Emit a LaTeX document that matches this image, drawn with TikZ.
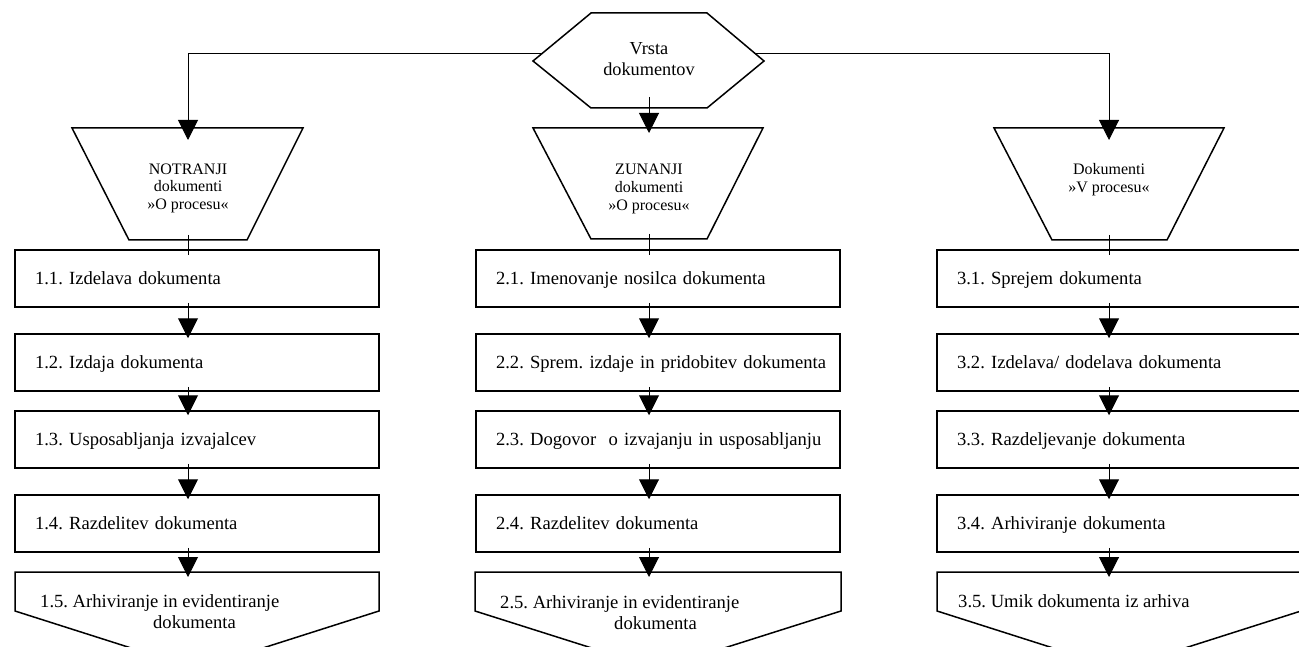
\documentclass[tikz,border=0pt]{standalone}
\usepackage{fontspec}
\setmainfont{Liberation Serif}
\usetikzlibrary{arrows.meta,calc}
\frenchspacing
\newcommand\bxt[1]{\raisebox{0pt}[12pt][0pt]{#1}}
\begin{document}
\begin{tikzpicture}[x=1pt,y=-1pt,
  shp/.style={draw=black, line width=1.5pt, fill=white, line join=miter},
  stepbox/.style={shp, rectangle, minimum height=57pt, text width=324pt, inner xsep=20pt, inner ysep=0pt, align=left, font=\fontsize{18.6}{21.5}\selectfont},
  conn/.style={line width=1pt, draw=black},
  arr/.style={conn, -{Triangle[length=20pt,width=20pt]}},
  trtext/.style={align=center, inner sep=0pt, anchor=north, font=\fontsize{16}{17.8}\selectfont},
  hextext/.style={align=center, inner sep=0pt, anchor=north, font=\fontsize{18.3}{21}\selectfont},
  pentext/.style={align=left, inner sep=0pt, anchor=north west, font=\fontsize{18.6}{21.5}\selectfont}]
\useasboundingbox (0,0) rectangle (1299,647);
\clip (0,0) rectangle (1299,647);
\fill[white] (0,0) rectangle (1299,647);

% hexagon
\draw[shp] (533,61) -- (591,13) -- (707,13) -- (764,61) -- (707,108) -- (591,108) -- cycle;
\node[hextext] (hex) at (649,42) {Vrsta\\dokumentov};
\coordinate (hexL) at (541.5,54);
\coordinate (hexR) at (755.7,54);
\coordinate (hexB) at (649,97);

% trapezoids
\draw[shp] (72,128) -- (303,128) -- (247,240) -- (129,240) -- cycle;
\draw[shp] (533,128) -- (763,128) -- (707,239) -- (591,239) -- cycle;
\draw[shp] (994,128) -- (1224,128) -- (1167,240) -- (1052,240) -- cycle;
\coordinate (tt1) at (188,140);
\coordinate (tt2) at (649,133);
\coordinate (tt3) at (1109,140);
\coordinate (tb1) at (188,240);
\coordinate (tb2) at (649,239);
\coordinate (tb3) at (1109,240);
\node[trtext] (t1) at (188,163.3) {NOTRANJI\\dokumenti\\»O procesu«};
\node[trtext] (t2) at (649,164) {ZUNANJI\\dokumenti\\»O procesu«};
\node[trtext] (t3) at (1109,163.3) {Dokumenti\\»V procesu«};

% column 1
\node[stepbox] (b11) at (197,278.5) {\bxt{1.1. Izdelava dokumenta}};
\node[stepbox] (b12) at (197,362.5) {\bxt{1.2. Izdaja dokumenta}};
\node[stepbox] (b13) at (197,439.5) {\bxt{1.3. Usposabljanja izvajalcev}};
\node[stepbox] (b14) at (197,523.5) {\bxt{1.4. Razdelitev dokumenta}};
\draw[shp] (15,572) -- (379,572) -- (379,611) -- (197,669) -- (15,611) -- cycle;
\coordinate (p1) at (197,572);
\node[pentext] (b15) at (40,594) {1.5. Arhiviranje in evidentiranje\\\hspace*{113pt}dokumenta};

% column 2
\node[stepbox] (b21) at (658,278.5) {\bxt{2.1. Imenovanje nosilca dokumenta}};
\node[stepbox] (b22) at (658,362.5) {\bxt{2.2. Sprem. izdaje in pridobitev dokumenta}};
\node[stepbox] (b23) at (658,439.5) {\bxt{2.3. Dogovor\ \ o izvajanju in usposabljanju}};
\node[stepbox] (b24) at (658,523.5) {\bxt{2.4. Razdelitev dokumenta}};
\draw[shp] (475,572) -- (841,572) -- (841,611) -- (658,669) -- (475,611) -- cycle;
\coordinate (p2) at (658,572);
\node[pentext] (b25) at (500,595) {2.5. Arhiviranje in evidentiranje\\\hspace*{114pt}dokumenta};

% column 3
\node[stepbox] (b31) at (1119,278.5) {\bxt{3.1. Sprejem dokumenta}};
\node[stepbox] (b32) at (1119,362.5) {\bxt{3.2. Izdelava/ dodelava dokumenta}};
\node[stepbox] (b33) at (1119,439.5) {\bxt{3.3. Razdeljevanje dokumenta}};
\node[stepbox] (b34) at (1119,523.5) {\bxt{3.4. Arhiviranje dokumenta}};
\draw[shp] (937,572) -- (1301,572) -- (1301,611) -- (1119,669) -- (937,611) -- cycle;
\coordinate (p3) at (1119,572);
\node[pentext] (b35) at (958,594) {3.5. Umik dokumenta iz arhiva};

% connectors from hexagon
\draw[arr] (hexL) -| (tt1);
\draw[arr] (hexR) -| (tt3);
\draw[arr] (hexB) -- (tt2);

% column connectors
\foreach \c in {1,2,3}{
  \draw[conn] ($(tb\c)+(0,-5)$) -- ($(b\c1.north -| tb\c)+(0,6)$);
  \draw[arr] ($(b\c1.south -| tb\c)+(0,-5)$) -- ($(b\c2.north -| tb\c)+(0,5)$);
  \draw[arr] ($(b\c2.south -| tb\c)+(0,-5)$) -- ($(b\c3.north -| tb\c)+(0,5)$);
  \draw[arr] ($(b\c3.south -| tb\c)+(0,-5)$) -- ($(b\c4.north -| tb\c)+(0,5)$);
  \draw[arr] ($(b\c4.south -| tb\c)+(0,-5)$) -- ($(p\c -| tb\c)+(0,5)$);
}
\end{tikzpicture}
\end{document}
